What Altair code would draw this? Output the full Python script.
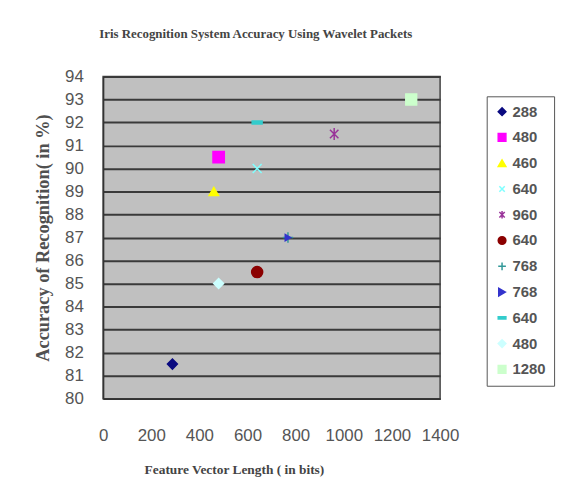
import altair as alt
import pandas as pd

# ---- data ----
legend_labels = ["288", "480", "460", "640", "960", "640", "768", "768", "640", "480", "1280"]
x_bits = [288, 480, 460, 640, 960, 640, 768, 768, 640, 480, 1280]
y_acc = [81.5, 90.5, 89, 90, 91.5, 85.5, 87, 87, 92, 85, 93]
colors = ["#0A0A80", "#FF00FF", "#FFFF00", "#7FFFFF", "#993399", "#8B0000",
          "#339999", "#3333CC", "#33CCCC", "#CCFFFF", "#CCFFCC"]
shapes = [
    "diamond",
    "square",
    "triangle-up",
    "M-0.7,-0.7L0.7,0.7M0.7,-0.7L-0.7,0.7",
    "M-0.7,-0.7L0.7,0.7M0.7,-0.7L-0.7,0.7M0,-1L0,1",
    "circle",
    "M-1,0L1,0M0,-1L0,1",
    "triangle-right",
    "M-1,-0.3L1,-0.3L1,0.3L-1,0.3Z",
    "diamond",
    "square",
]
marker_sizes = [100, 130, 90, 165, 150, 125, 110, 40, 100, 100, 120]
x_ticks = [0, 200, 400, 600, 800, 1000, 1200, 1400]
y_ticks = list(range(80, 95))

keys = [f"{i:02d}:{lab}" for i, lab in enumerate(legend_labels)]
df = pd.DataFrame({"series": keys, "bits": x_bits, "acc": y_acc, "sz": marker_sizes})

color_scale = alt.Scale(domain=keys, range=colors)
shape_scale = alt.Scale(domain=keys, range=shapes)

legend = alt.Legend(
    title=None,
    orient="none",
    legendX=387,
    legendY=20,
    labelExpr="split(datum.label, ':')[1]",
    labelFont="Liberation Sans",
    labelFontSize=15,
    labelFontWeight="bold",
    labelColor="#555555",
    symbolSize=60,
    symbolStrokeWidth=1.5,
    rowPadding=10,
    padding=8,
    strokeColor="#555555",
    fillColor="#FFFFFF",
    labelOffset=3,
)

chart = alt.Chart(df).mark_point(filled=True, strokeWidth=1.5, opacity=1).encode(
    x=alt.X("bits:Q",
            scale=alt.Scale(domain=[0, 1400], nice=False),
            axis=alt.Axis(values=x_ticks, format="d", labelOverlap=False, labelFlush=False,
                          title="Feature Vector Length ( in bits)",
                          grid=False, ticks=False, labelPadding=29,
                          labelFont="Liberation Sans", labelFontSize=17, labelColor="#555555",
                          titleFont="Liberation Serif", titleFontSize=13.5, titleFontWeight="bold",
                          titleColor="#444444", titlePadding=20, titleX=132,
                          domainColor="#333333", domainWidth=1.5)),
    y=alt.Y("acc:Q",
            scale=alt.Scale(domain=[80, 94], nice=False, zero=False),
            axis=alt.Axis(values=y_ticks, labelOverlap=False, labelFlush=False,
                          title="Accuracy of Recognition( in %)",
                          grid=True, gridColor="#3A3A3A", gridWidth=2,
                          ticks=False, labelPadding=20,
                          labelFont="Liberation Sans", labelFontSize=17, labelColor="#555555",
                          titleFont="Liberation Serif", titleFontSize=18.5, titleFontWeight="bold",
                          titleColor="#505050", titlePadding=12,
                          domainColor="#333333", domainWidth=1.5)),
    shape=alt.Shape("series:N", scale=shape_scale, legend=legend),
    fill=alt.Fill("series:N", scale=color_scale, legend=legend),
    stroke=alt.Stroke("series:N", scale=color_scale, legend=legend),
    size=alt.Size("sz:Q", scale=None),
).properties(
    width=340,
    height=325,
    background="#FFFFFF",
    title=alt.Title("Iris Recognition System Accuracy Using Wavelet  Packets",
                    font="Liberation Serif", fontSize=13, fontWeight="bold",
                    color="#444444", anchor="start", dx=66, offset=27),
    padding={"left": 34, "top": 26, "right": 10, "bottom": 10},
).configure_view(
    fill="#C0C0C0", stroke="#444444", strokeWidth=1.5
)

chart.save("out.html", embed_options={"renderer": "svg", "actions": False})
